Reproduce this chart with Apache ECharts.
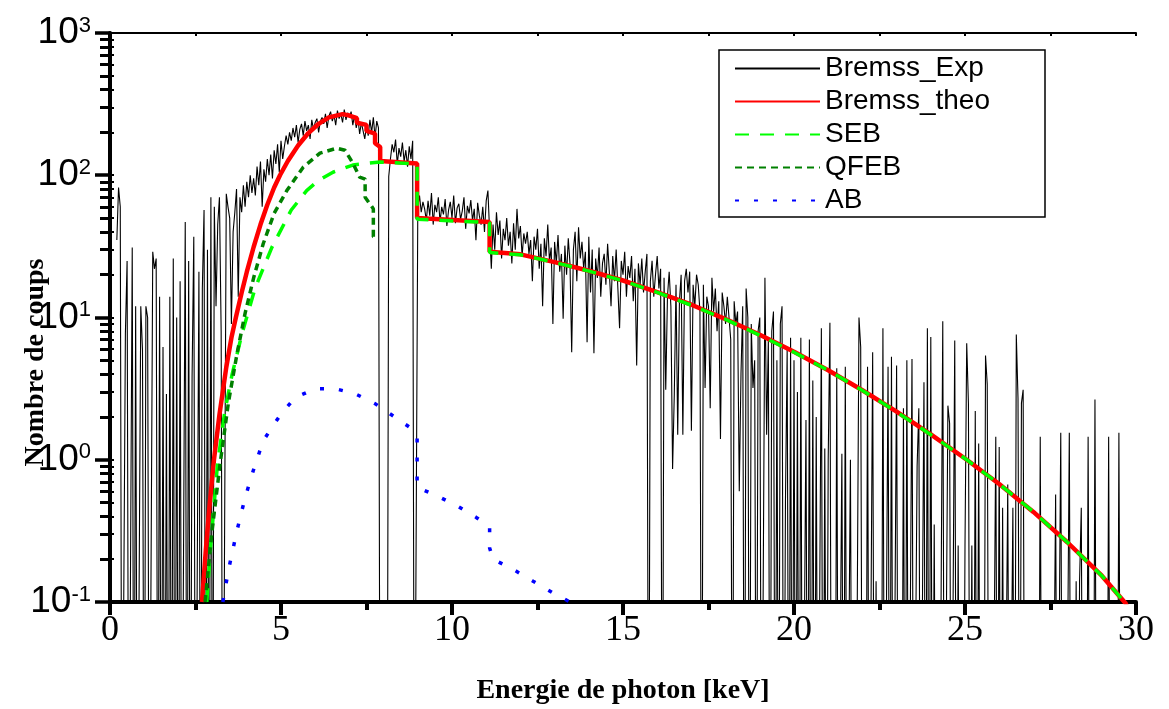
<!DOCTYPE html>
<html>
<head>
<meta charset="utf-8">
<script src="https://cdn.jsdelivr.net/npm/echarts@6.0.0/dist/echarts.min.js"></script>
<style>
html,body{margin:0;padding:0;background:#fff;}
#chart{width:1169px;height:709px;}
</style>
</head>
<body>
<div id="chart"></div>
<script>
// ---------- DATA ----------
// Experimental spectrum: counts per 0.05 keV channel starting at 0.20 keV (one row = 1 keV)
const EXP_START = 0.20;
const EXP_STEP = 0.05;
const expCounts = [
  35, 82, 60, 0, 0, 7.7, 25, 0, 0, 31, 0, 12, 0, 0, 12, 5.9, 0, 12, 10, 0,
  0, 29, 22, 26, 0, 14, 0, 6.2, 0, 2.9, 0, 14, 0, 26, 0, 10, 0, 18, 0, 0,
  47, 0, 25, 0, 3.8, 37, 0, 0, 21, 0, 16, 57, 0, 30, 0, 70, 0, 60, 12, 45,
  70, 8, 0, 0, 74, 60, 50, 9, 40, 55, 80, 14, 70, 55, 85, 60, 90, 70, 100, 75,
  95, 72, 115, 85, 125, 60, 110, 90, 130, 100, 140, 95, 150, 120, 165, 105, 175, 130, 160, 190,
  165, 200, 175, 215, 185, 225, 170, 210, 230, 190, 240, 205, 225, 180, 245, 210, 235, 250, 200, 240,
  255, 230, 270, 215, 260, 280, 240, 265, 225, 285, 250, 270, 235, 290, 245, 275, 255, 280, 225, 265,
  215, 250, 195, 235, 205, 180, 225, 190, 245, 200, 255, 185, 240, 215, 0, 0, 0, 0, 0, 98,
  130, 165, 145, 178, 120, 155, 135, 170, 125, 150, 115, 160, 130, 175, 0, 0, 60, 72, 55, 65,
  58, 48, 66, 52, 75, 45, 62, 55, 70, 47, 60, 53, 68, 44, 57, 65, 50, 72, 46, 59,
  63, 49, 56, 70, 42, 61, 54, 67, 48, 58, 35, 64, 52, 45, 60, 40, 66, 78, 40, 22,
  45, 30, 55, 38, 48, 26, 42, 35, 50, 32, 40, 24, 46, 30, 58, 36, 44, 27, 39, 33,
  40, 28, 35, 18, 37, 30, 42, 22, 33, 12, 36, 27, 45, 25, 31, 9, 34, 24, 38, 21,
  28, 9.8, 32, 20, 36, 24, 5.7, 30, 40, 18, 43, 26, 34, 22, 29, 6.7, 37, 15, 30, 5.6,
  26, 19, 31, 14, 24, 28, 17, 33, 21, 12, 27, 18, 30, 16, 8.4, 25, 20, 29, 14, 23,
  19, 27, 13, 22, 4.6, 24, 17, 26, 15, 21, 28, 0, 18, 25, 14, 20, 27, 16, 22, 0,
  19, 3.1, 14, 21, 12, 0.86, 2.9, 17, 1.5, 13, 20, 1.5, 18, 22, 15, 21, 1.6, 17, 12, 20,
  17, 11, 0, 17, 3.2, 14, 12, 2.3, 19, 11, 16, 8, 13, 1.4, 15, 12, 9, 14, 10, 7,
  0, 13, 9, 11, 0.6, 4, 12, 0, 16, 10, 0, 9, 3.2, 5, 0, 8, 10, 0, 0, 19,
  1.5, 7, 0, 8, 11, 0, 5, 0, 9, 12, 0, 0.5, 6, 0, 7.2, 0, 5, 0, 3, 0,
  7.2, 0, 0, 1.9, 0, 7.0, 0, 3.6, 0, 2.0, 0, 0, 8.4, 0, 1.2, 0, 1.0, 9.2, 0, 0,
  0, 4.4, 0, 0, 1.1, 0, 4.5, 0, 0, 1.0, 0, 0, 0, 0, 10, 6.2, 0, 0, 0, 4.5,
  0, 0, 5.7, 0, 0.14, 0, 0, 0, 8.4, 0, 0, 4.5, 0, 5.3, 0, 0, 4.6, 0, 0, 0,
  2.3, 0, 5.0, 0, 0, 5.1, 0, 0, 0.9, 2.3, 0, 0, 3.5, 0, 8.4, 0, 7.3, 0, 0.35, 0,
  0, 0, 0, 9.4, 0, 0, 2.4, 1.8, 0, 0, 6.9, 0, 0.25, 0, 0, 0, 0.25, 6.6, 2.5, 0,
  0.25, 0, 2.2, 0, 1.3, 0, 0, 0, 5.4, 3.4, 0, 0, 0, 0, 1.45, 0, 1.23, 0, 0.46, 0,
  0, 0.67, 0, 0, 0.46, 0, 7.6, 2.7, 0, 2.5, 3.1, 0, 0, 0, 0, 0, 0, 0, 0, 0,
  1.45, 0, 0, 0, 0, 0, 0, 0, 0, 0.57, 0, 0, 1.55, 0, 0, 0, 0, 1.55, 0, 0,
  0, 0.14, 0, 0.14, 0.46, 0, 0, 0, 1.45, 0, 0, 0, 2.65, 0, 0, 0, 0, 0, 0, 0,
  1.45, 0, 0, 0, 0, 0, 1.55, 0, 0, 0, 0, 0, 0, 0, 0, 0, 0
];

// Bremss_theo
const theoE = [2.69, 2.8, 2.9, 3.04, 3.2, 3.4, 3.55, 3.68, 3.85, 4.0, 4.2, 4.4, 4.6, 4.8, 4.97, 5.2, 5.5, 5.8, 6.1, 6.4, 6.8, 7.0,
  7.22, 7.22, 7.5, 7.5, 7.75, 7.75, 7.9, 7.9, 8.98, 8.98, 11.1, 11.1,
  12, 13, 14, 15, 16, 17, 18, 19, 20, 21, 22, 23, 24, 25, 26, 27, 28, 29, 29.7, 29.8];
const theoV = [0.1, 0.229, 0.447, 1.0, 2.07, 4.47, 7.2, 10, 15, 20.9, 31.3, 45, 62, 82, 100, 126, 162, 198, 230, 255, 269, 263,
  252, 234, 226, 205, 196, 168, 158, 126, 121, 50, 47, 29,
  27.8, 24.5, 21.3, 18.2, 15.1, 12.3, 9.75, 7.57, 5.74, 4.26, 3.08, 2.18, 1.51, 1.02, 0.675, 0.43, 0.262, 0.153, 0.0975, 0.085];

// SEB
const sebE = [2.83, 2.95, 3.14, 3.35, 3.57, 3.86, 4.24, 4.73, 5.3, 5.75, 6.1, 6.52, 7.1, 7.9,
  8.98, 8.98, 11.1, 11.1,
  12, 13, 14, 15, 16, 17, 18, 19, 20, 21, 22, 23, 24, 25, 26, 27, 28, 29, 29.7, 29.8];
const sebV = [0.1, 0.26, 0.91, 2.14, 3.98, 7.7, 16, 31, 57, 78, 92, 105, 118, 124,
  120, 49, 46.5, 28.6,
  27.6, 24.4, 21.2, 18.1, 15.0, 12.2, 9.7, 7.5, 5.7, 4.25, 3.07, 2.17, 1.5, 1.02, 0.675, 0.43, 0.262, 0.153, 0.0975, 0.085];

// QFEB
const qfebE = [2.78, 2.98, 3.22, 3.46, 3.71, 3.95, 4.2, 4.48, 4.8, 5.17, 5.65, 6.14, 6.63, 6.87, 7.1, 7.3, 7.46, 7.46, 7.66, 7.7, 7.7, 7.82];
const qfebV = [0.1, 0.31, 0.94, 2.5, 5.5, 10.7, 19, 33, 54, 78, 114, 143, 155, 150, 122, 97, 94, 70, 60, 58, 37, 36];

// AB
const abE = [3.3, 3.46, 3.71, 3.95, 4.19, 4.48, 4.77, 5.03, 5.41, 6.0, 6.58, 7.16, 7.75, 8.27, 8.83, 8.98, 8.98, 9.56, 10.15, 10.73, 11.1, 11.1, 11.2, 11.78, 12.37, 12.95, 13.45, 13.6];
const abV = [0.1, 0.166, 0.316, 0.54, 0.84, 1.36, 1.74, 2.14, 2.73, 3.16, 3.16, 2.92, 2.48, 2.04, 1.65, 1.45, 0.64, 0.557, 0.474, 0.39, 0.34, 0.24, 0.2, 0.17, 0.14, 0.116, 0.1, 0.095];

const seriesNames = ['Bremss_Exp', 'Bremss_theo', 'SEB', 'QFEB', 'AB'];
const decades = [0.1, 1, 10, 100];
const minorMultipliers = [2, 3, 4, 5, 6, 7, 8, 9];
const xAxisTitle = 'Energie de photon [keV]';
const yAxisTitle = 'Nombre de coups';

// ---------- BUILD ----------
const ZERO_FLOOR = 1e-3; // zero counts drawn below the visible log range
const expData = expCounts.map((c, i) => [+(EXP_START + i * EXP_STEP).toFixed(2), c > 0 ? c : ZERO_FLOOR]);
const pairs = (xs, ys) => xs.map((x, i) => [x, ys[i]]);

const minorTicks = [];
decades.forEach(d => minorMultipliers.forEach(m => minorTicks.push(+(d * m).toPrecision(3))));
const allTicks = decades.concat([1000]).concat(minorTicks);

const chart = echarts.init(document.getElementById('chart'), null, {renderer: 'canvas'});
const black = '#000';
const logBase = {type: 'log', logBase: 10, min: 0.1, max: 1000, splitLine: {show: false}};
const gridBox = {left: 110, right: 33, top: 33, bottom: 107, containLabel: false, outerBoundsMode: 'none'};

chart.setOption({
  animation: false,
  backgroundColor: '#fff',
  grid: [Object.assign({}, gridBox), Object.assign({}, gridBox)],
  legend: {
    orient: 'vertical', left: 719, top: 50,
    data: seriesNames,
    itemWidth: 85, itemHeight: 14, itemGap: 0,
    padding: [2, 10, 0, 15],
    borderColor: black, borderWidth: 1.5,
    selectedMode: false,
    itemStyle: {color: 'rgba(0,0,0,0)', borderColor: 'rgba(0,0,0,0)', borderWidth: 0},
    textStyle: {fontFamily: 'Liberation Sans', fontSize: 28, color: black, lineHeight: 33, width: 210}
  },
  xAxis: [{
    gridIndex: 0, type: 'value', min: 0, max: 30, interval: 5, position: 'bottom',
    name: xAxisTitle, nameLocation: 'middle', nameGap: 75, nameMoveOverlap: false,
    nameTextStyle: {fontFamily: 'Liberation Serif', fontWeight: 'bold', fontSize: 28, color: black},
    axisLine: {lineStyle: {color: black, width: 4}},
    axisTick: {length: 13, lineStyle: {color: black, width: 4}},
    minorTick: {show: true, splitNumber: 2, length: 8, lineStyle: {color: black, width: 4}},
    splitLine: {show: false},
    axisLabel: {fontFamily: 'Liberation Serif', fontSize: 36, color: black, margin: 11}
  }, {
    gridIndex: 0, type: 'value', min: 0, max: 30, interval: 2.5, position: 'top',
    axisLine: {lineStyle: {color: black, width: 2}},
    axisTick: {inside: true, length: 3, lineStyle: {color: black, width: 2}},
    axisLabel: {show: false},
    splitLine: {show: false}
  }, {
    gridIndex: 1, type: 'value', min: 0, max: 30, show: false
  }],
  yAxis: [Object.assign({}, logBase, {
    gridIndex: 0, position: 'left',
    name: yAxisTitle, nameLocation: 'middle', nameGap: 60, nameMoveOverlap: false,
    nameTextStyle: {fontFamily: 'Liberation Serif', fontWeight: 'bold', fontSize: 28, color: black, padding: [0, 90, 0, 0]},
    axisLine: {show: true, lineStyle: {color: black, width: 4}},
    axisTick: {show: true, length: 15, lineStyle: {color: black, width: 3.5}},
    axisLabel: {
      margin: 19,
      formatter: v => '{b|10}{s|' + Math.round(Math.log10(v)) + '}',
      rich: {
        b: {fontFamily: 'Liberation Sans', fontSize: 37, color: black, lineHeight: 37},
        s: {fontFamily: 'Liberation Sans', fontSize: 22, color: black, verticalAlign: 'top', lineHeight: 22}
      }
    }
  }), Object.assign({}, logBase, {
    gridIndex: 0, position: 'right',
    axisLine: {show: true, lineStyle: {color: black, width: 3}},
    axisTick: {show: true, length: 4, customValues: allTicks, lineStyle: {color: black, width: 2}},
    axisLabel: {show: false}
  }), Object.assign({}, logBase, {
    gridIndex: 1, position: 'left',
    axisLine: {show: false},
    axisTick: {show: true, length: 10, customValues: minorTicks, lineStyle: {color: black, width: 3}},
    axisLabel: {show: false}
  })],
  series: [{
    name: seriesNames[0], type: 'line', data: expData, symbol: 'none', silent: true,
    lineStyle: {color: black, width: 1.1}, itemStyle: {color: black}, z: 2
  }, {
    name: seriesNames[1], type: 'line', data: pairs(theoE, theoV), symbol: 'none', silent: true,
    lineStyle: {color: '#ff0000', width: 4.5}, itemStyle: {color: '#ff0000'}, z: 3
  }, {
    name: seriesNames[2], type: 'line', data: pairs(sebE, sebV), symbol: 'none', silent: true,
    lineStyle: {color: '#00ff00', width: 3.5, type: [14, 11]}, itemStyle: {color: '#00ff00'}, z: 4
  }, {
    name: seriesNames[3], type: 'line', data: pairs(qfebE, qfebV), symbol: 'none', silent: true,
    lineStyle: {color: '#008000', width: 3.5, type: [7, 5]}, itemStyle: {color: '#008000'}, z: 5
  }, {
    name: seriesNames[4], type: 'line', data: pairs(abE, abV), symbol: 'none', silent: true,
    lineStyle: {color: '#0000ff', width: 3.5, type: [4, 15]}, itemStyle: {color: '#0000ff'}, z: 6
  }]
});
</script>
</body>
</html>
